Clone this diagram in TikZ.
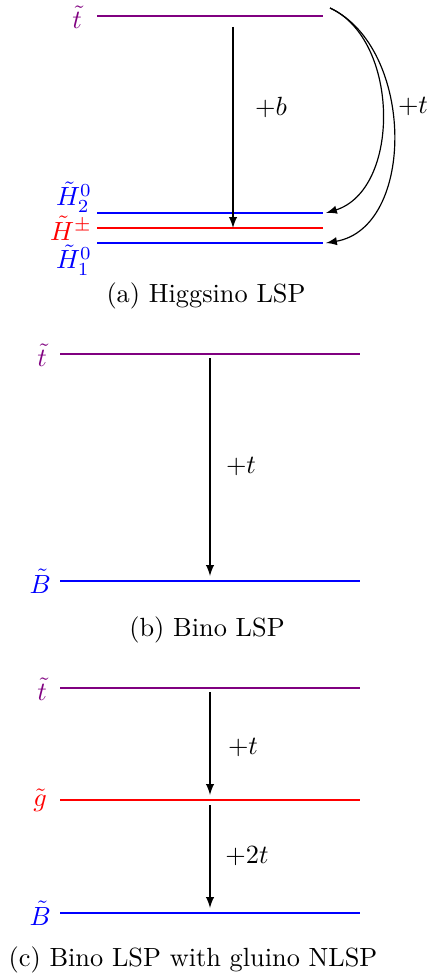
\documentclass[tikz,border=0pt]{standalone}
\usetikzlibrary{arrows.meta}
\begin{document}
\begin{tikzpicture}[x=0.38pt, y=-0.38pt, >=latex, line cap=butt]
\tikzset{
    level/.style={line width=1.1pt},
    decay/.style={->, line width=0.45pt},
    partlabel/.style={anchor=east, inner sep=1pt},
    steplabel/.style={inner sep=1pt},
    subcaption/.style={inner sep=0pt}
}
\useasboundingbox (0,0) rectangle (430,974);
% (a) Higgsino LSP
\coordinate (tA1) at (97,16);   \coordinate (tA2) at (323,16);
\coordinate (hbA1) at (97,213); \coordinate (hbA2) at (323,213);
\coordinate (hcA1) at (97,228); \coordinate (hcA2) at (323,228);
\coordinate (haA1) at (97,243); \coordinate (haA2) at (323,243);
\draw[level, violet] (tA1) -- (tA2);
\draw[level, blue] (hbA1) -- (hbA2);
\draw[level, red] (hcA1) -- (hcA2);
\draw[level, blue] (haA1) -- (haA2);
\node[partlabel, violet] (stopA) at (85,17) {$\tilde t$};
\node[partlabel, blue] (higgsTwo) at (95,197) {$\tilde H^0_2$};
\node[partlabel, red] (higgsPM) at (95,228) {$\tilde H^{\pm}$};
\node[partlabel, blue] (higgsOne) at (95,260) {$\tilde H^0_1$};
\coordinate (bTop) at (233,27);
\coordinate (bEnd) at (233,228);
\draw[decay] (bTop) -- (bEnd);
\node[steplabel] (plusB) at (271,107) {$+b$};
\coordinate (tStart) at (330,8);
\coordinate (tEndTwo) at (326,213);
\coordinate (tEndOne) at (326,243);
\draw[decay] (tStart) .. controls (400,40) and (401,190) .. (tEndTwo);
\draw[decay] (tStart) .. controls (415,48) and (416,228) .. (tEndOne);
\node[steplabel] (plusTa) at (413,107) {$+t$};
\node[subcaption] (capA) at (206,296) {(a) Higgsino LSP};
% (b) Bino LSP
\coordinate (tB1) at (60,354);  \coordinate (tB2) at (360,354);
\coordinate (bB1) at (60,581);  \coordinate (bB2) at (360,581);
\draw[level, violet] (tB1) -- (tB2);
\draw[level, blue] (bB1) -- (bB2);
\node[partlabel, violet] (stopB) at (50,355) {$\tilde t$};
\node[partlabel, blue] (binoB) at (54,581) {$\tilde B$};
\coordinate (tTopB) at (210,358);
\coordinate (tEndB) at (210,576);
\draw[decay] (tTopB) -- (tEndB);
\node[steplabel] (plusTb) at (241,467) {$+t$};
\node[subcaption] (capB) at (207,630) {(b) Bino LSP};
% (c) Bino LSP with gluino NLSP
\coordinate (tC1) at (60,688);  \coordinate (tC2) at (360,688);
\coordinate (gC1) at (60,800);  \coordinate (gC2) at (360,800);
\coordinate (bC1) at (60,913);  \coordinate (bC2) at (360,913);
\draw[level, violet] (tC1) -- (tC2);
\draw[level, red] (gC1) -- (gC2);
\draw[level, blue] (bC1) -- (bC2);
\node[partlabel, violet] (stopC) at (50,689) {$\tilde t$};
\node[partlabel, red] (gluinoC) at (50,800) {$\tilde g$};
\node[partlabel, blue] (binoC) at (54,913) {$\tilde B$};
\coordinate (tTopC) at (210,692);
\coordinate (tEndC) at (210,795);
\coordinate (gTopC) at (210,805);
\coordinate (gEndC) at (210,908);
\draw[decay] (tTopC) -- (tEndC);
\draw[decay] (gTopC) -- (gEndC);
\node[steplabel] (plusTc) at (243,747) {$+t$};
\node[steplabel] (plusTTc) at (247,856) {$+2t$};
\node[subcaption] (capC) at (193,960) {(c) Bino LSP with gluino NLSP};
\end{tikzpicture}
\end{document}
